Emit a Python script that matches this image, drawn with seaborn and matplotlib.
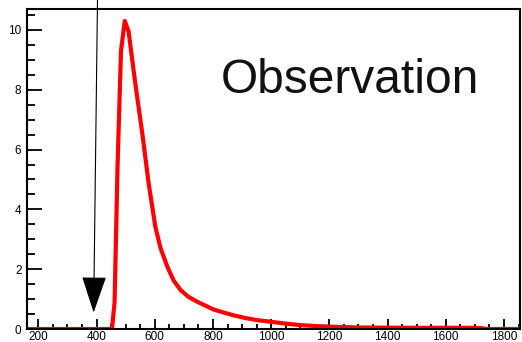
import matplotlib
matplotlib.use("Agg")
import matplotlib.pyplot as plt
from matplotlib.ticker import MultipleLocator
import seaborn as sns
import pandas as pd

# Observed signal: time (x) versus intensity (y)
time_vals = [160, 200, 300, 400, 453, 462, 472, 484, 497, 510, 533, 557, 579,
             602, 620, 643, 665, 689, 715, 746, 770, 800, 830, 870, 910, 950,
             1000, 1050, 1100, 1150, 1200, 1300, 1400, 1500, 1600, 1700,
             1720, 1745, 1800, 1855]
intensity_vals = [0, 0, 0, 0, 0, 0.9, 5.4, 9.3, 10.3, 9.95, 8.22, 6.55, 4.87,
                  3.42, 2.7, 2.09, 1.62, 1.3, 1.08, 0.91, 0.8, 0.66, 0.57,
                  0.46, 0.37, 0.3, 0.24, 0.18, 0.13, 0.1, 0.08, 0.05, 0.045,
                  0.04, 0.04, 0.04, 0.03, 0.0, 0.0, 0.0]
x_ticks = [200, 400, 600, 800, 1000, 1200, 1400, 1600, 1800]
y_ticks = [0, 2, 4, 6, 8, 10]
label_text = "Observation"
arrow_tip = (390, 0.55)
arrow_tail = (404, 11.6)

df = pd.DataFrame({"time": time_vals, "intensity": intensity_vals})

sns.set_style("white")
plt.rcParams["font.family"] = ["Liberation Sans", "DejaVu Sans"]

fig = plt.figure(figsize=(5.22, 3.42), dpi=100)
ax = fig.add_axes([27 / 522, 13 / 342, 493 / 522, 320 / 342])

sns.lineplot(data=df, x="time", y="intensity", ax=ax, color="#ff0000",
             linewidth=3.0, zorder=2)

ax.set_xlim(161, 1855)
ax.set_ylim(0, 10.7)
ax.set_xlabel("")
ax.set_ylabel("")

ax.set_xticks(x_ticks)
ax.set_yticks(y_ticks)
ax.xaxis.set_minor_locator(MultipleLocator(50))
ax.yaxis.set_minor_locator(MultipleLocator(0.5))

ax.tick_params(axis="both", which="both", direction="in", colors="black",
               bottom=True, left=True, top=False, right=False, labelsize=8.5)
ax.tick_params(axis="y", which="major", length=11, width=1.3, pad=4)
ax.tick_params(axis="y", which="minor", length=6, width=1.3)
ax.tick_params(axis="x", which="major", length=7, width=1.3, pad=1.2)
ax.tick_params(axis="x", which="minor", length=3.5, width=1.3)

for side in ["left", "bottom", "top", "right"]:
    ax.spines[side].set_visible(True)
    ax.spines[side].set_color("black")
    ax.spines[side].set_linewidth(1.5)

ax.text(1271, 7.88, label_text, ha="center", va="baseline", fontsize=34.5,
        color="#111111")

ax.annotate("", xy=arrow_tip, xytext=arrow_tail, xycoords="data",
            textcoords="data", annotation_clip=False,
            arrowprops=dict(arrowstyle="-|>,head_length=23.5,head_width=7.9",
                            mutation_scale=1, color="black", lw=0.8,
                            shrinkA=0, shrinkB=0))

fig.savefig("out.png", dpi=100)
